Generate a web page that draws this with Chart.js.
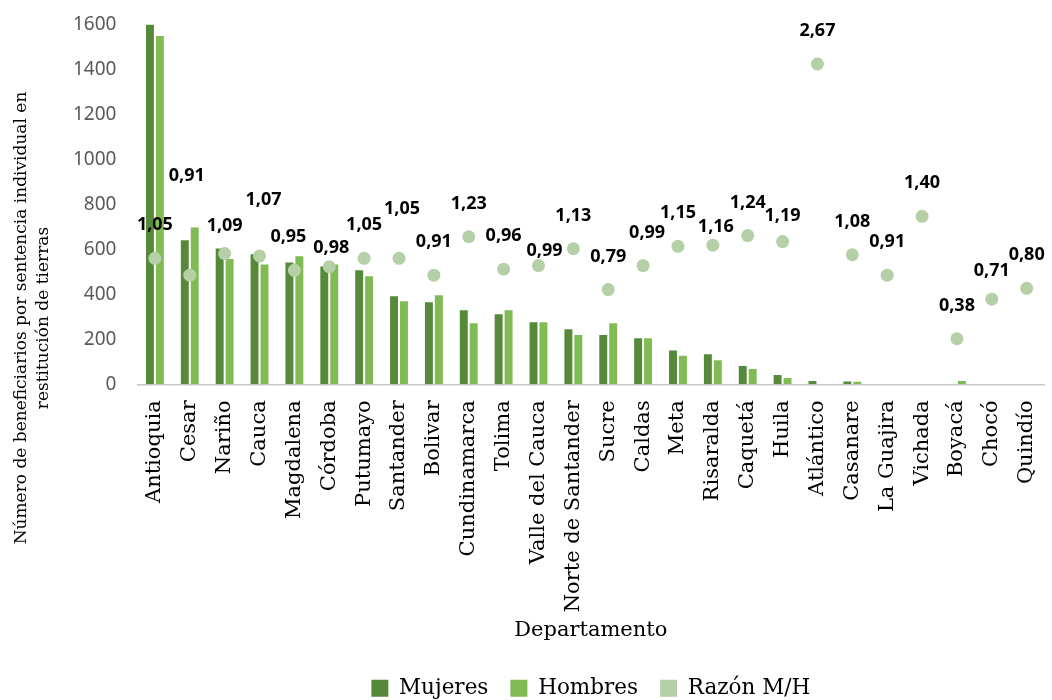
<!DOCTYPE html>
<html>
<head>
<meta charset="utf-8">
<script src="https://cdn.jsdelivr.net/npm/chart.js@4.4.1/dist/chart.umd.min.js"></script>
<style>
  html, body { margin: 0; padding: 0; background: #fff; }
  #wrap { width: 1052px; height: 700px; }
</style>
</head>
<body>
<div id="wrap"><canvas id="chart"></canvas></div>
<script>
// Departamentos (eje X)
const departamentos = [
    'Antioquia', 'Cesar', 'Nariño', 'Cauca', 'Magdalena', 'Córdoba', 'Putumayo',
    'Santander', 'Bolivar', 'Cundinamarca', 'Tolima', 'Valle del Cauca',
    'Norte de Santander', 'Sucre', 'Caldas', 'Meta', 'Risaralda', 'Caquetá',
    'Huila', 'Atlántico', 'Casanare', 'La Guajira', 'Vichada', 'Boyacá',
    'Chocó', 'Quindío'
];

// Beneficiarios por sexo
const mujeres = [1600, 640, 604, 578, 542, 524, 507, 391, 365, 329, 312, 276, 245,
    219, 205, 150, 134, 81, 41, 15, 13, 0, 0, 0, 0, 0];
const hombres = [1548, 697, 557, 533, 569, 533, 480, 369, 396, 272, 329, 276, 219,
    272, 205, 127, 107, 68, 28, 0, 12, 0, 0, 15, 0, 0];

// Razón M/H
const razon = [1.05, 0.91, 1.09, 1.07, 0.95, 0.98, 1.05, 1.05, 0.91, 1.23, 0.96, 0.99,
    1.13, 0.79, 0.99, 1.15, 1.16, 1.24, 1.19, 2.67, 1.08, 0.91, 1.40, 0.38, 0.71, 0.80];

const yTicks = [0, 200, 400, 600, 800, 1000, 1200, 1400, 1600];

const yTitle = ['Número de beneficiarios por sentencia individual en', 'restitución de tierras'];

const serif = '"DejaVu Serif", serif';

// etiquetas de la razón, dibujadas encima de cada punto
const ratioLabels = {
    id: 'ratioLabels',
    afterDatasetsDraw(chart, args, opts) {
        const meta = chart.getDatasetMeta(opts.datasetIndex);
        const ctx = chart.ctx;
        ctx.save();
        ctx.font = 'bold 18px "Noto Sans", sans-serif';
        ctx.fillStyle = '#000';
        ctx.textAlign = 'center';
        ctx.textBaseline = 'middle';
        meta.data.forEach((pt, i) => {
            const n = opts.nudge[departamentos[i]] || {};
            const dx = n.dx || 0;
            const dy = n.dy || opts.offset;
            const txt = razon[i].toFixed(2).replace('.', ',');
            ctx.fillText(txt, pt.x + dx, pt.y - dy);
        });
        ctx.restore();
    }
};

// título del eje Y (dos líneas, centrado como en el original)
const yAxisTitle = {
    id: 'yAxisTitle',
    afterDraw(chart, args, opts) {
        const ctx = chart.ctx;
        ctx.save();
        ctx.translate(0, opts.centerY);
        ctx.rotate(-Math.PI / 2);
        ctx.font = '17px ' + serif;
        ctx.fillStyle = '#000';
        ctx.textAlign = 'center';
        ctx.textBaseline = 'alphabetic';
        yTitle.forEach((line, i) => {
            ctx.fillText(line, 0, opts.baseline + i * opts.lineGap);
        });
        ctx.restore();
    }
};

const ctx = document.getElementById('chart').getContext('2d');
new Chart(ctx, {
    data: {
        labels: departamentos,
        datasets: [
            {
                type: 'bar',
                label: 'Mujeres',
                data: mujeres,
                backgroundColor: '#568a3a',
                barPercentage: 0.8,
                categoryPercentage: 0.57,
                order: 2
            },
            {
                type: 'bar',
                label: 'Hombres',
                data: hombres,
                backgroundColor: '#80bb54',
                barPercentage: 0.8,
                categoryPercentage: 0.57,
                order: 2
            },
            {
                type: 'line',
                label: 'Razón M/H',
                data: razon,
                yAxisID: 'y2',
                showLine: false,
                backgroundColor: '#b5d0a6',
                borderColor: '#b5d0a6',
                borderWidth: 0,
                pointRadius: 6.5,
                pointHoverRadius: 6.5,
                order: 1
            }
        ]
    },
    options: {
        responsive: true,
        maintainAspectRatio: false,
        animation: false,
        layout: {
            padding: { left: 60, right: 0, top: -4, bottom: -9 }
        },
        plugins: {
            tooltip: { enabled: false },
            legend: {
                position: 'bottom',
                fullSize: false,
                labels: {
                    boxWidth: 17,
                    boxHeight: 17,
                    padding: 22,
                    color: '#000',
                    font: { family: serif, size: 21.5 },
                    sort: (a, b) => a.datasetIndex - b.datasetIndex
                }
            },
            ratioLabels: {
                datasetIndex: 2,
                offset: 33,
                nudge: {
                    'Cesar': { dx: -3, dy: 99 },
                    'Nariño': { dy: 28 },
                    'Cauca': { dx: 4, dy: 56 },
                    'Magdalena': { dx: -6 },
                    'Córdoba': { dx: 2, dy: 19 },
                    'Santander': { dx: 3, dy: 49 },
                    'Valle del Cauca': { dx: 6, dy: 15 },
                    'Caldas': { dx: 4 },
                    'Risaralda': { dx: 3, dy: 18 },
                    'Huila': { dy: 26 },
                    'Chocó': { dy: 28 }
                }
            },
            yAxisTitle: {
                centerY: 318,
                baseline: 26,
                lineGap: 22
            }
        },
        scales: {
            x: {
                grid: { display: false, drawTicks: true, tickLength: 16 },
                border: { display: true, color: '#c8c8c8', width: 1.5 },
                ticks: {
                    color: '#000',
                    font: { family: serif, size: 21 },
                    minRotation: 90,
                    maxRotation: 90,
                    autoSkip: false,
                    padding: 0
                },
                title: {
                    display: true,
                    text: 'Departamento',
                    color: '#000',
                    font: { family: serif, size: 21 },
                    padding: { top: 6, bottom: 12 }
                }
            },
            y: {
                min: 0,
                max: 1600,
                afterBuildTicks: axis => { axis.ticks = yTicks.map(v => ({ value: v })); },
                grid: { display: false },
                border: { display: false },
                ticks: {
                    color: '#595959',
                    font: { family: '"Noto Sans", sans-serif', size: 19 },
                    padding: 13,
                    callback: v => String(v)
                }
            },
            y2: {
                display: false,
                min: 0,
                max: 3
            }
        }
    },
    plugins: [ratioLabels, yAxisTitle]
});
</script>
</body>
</html>
